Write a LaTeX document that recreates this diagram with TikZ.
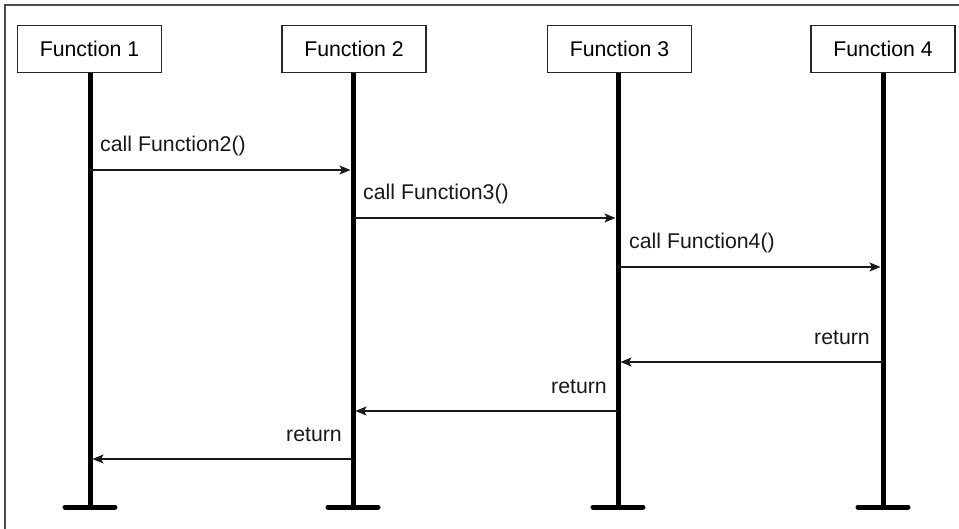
\documentclass[tikz,border=0pt]{standalone}
\usepackage{fontspec}
\setmainfont{Liberation Sans}
\usetikzlibrary{arrows.meta}
\begin{document}
\begin{tikzpicture}[x=1pt,y=-1pt,
  fbox/.style={draw=black!85, line width=1.8pt, fill=white, minimum width=144pt, minimum height=47pt, inner sep=0pt, font=\fontsize{21.3}{25}\selectfont},
  lifeline/.style={line width=5pt, black},
  capline/.style={line width=5pt, black, line cap=round},
  msg/.style={line width=1.4pt, black!90, -{Stealth[length=11pt,width=9pt,inset=2.5pt]}, shorten >=2.5pt},
  lbl/.style={font=\fontsize{21.3}{25}\selectfont, text=black!90, inner sep=0pt},
  frameline/.style={line width=1.4pt, black!70}
]
\useasboundingbox (0,0) rectangle (959,529);
\fill[white] (0,0) rectangle (959,529);
\draw[frameline] (5,529) -- (5,5) -- (959,5);

\node[fbox] (f1) at (89.5,49) {Function 1};
\node[fbox] (f2) at (354,49) {Function 2};
\node[fbox] (f3) at (619.5,49) {Function 3};
\node[fbox] (f4) at (883,49) {Function 4};

\foreach \i/\x in {1/90,2/353,3/618,4/883}{
  \coordinate (b\i) at (\x,507);
  \draw[lifeline] (f\i.south -| b\i) -- (b\i);
  \draw[capline] ([xshift=-25pt]b\i) -- ([xshift=25pt]b\i);
}

\coordinate (y1) at (0,170);
\coordinate (y2) at (0,218);
\coordinate (y3) at (0,267);
\coordinate (y4) at (0,362);
\coordinate (y5) at (0,411);
\coordinate (y6) at (0,459);

\draw[msg] (b1 |- y1) -- (b2 |- y1);
\draw[msg] (b2 |- y2) -- (b3 |- y2);
\draw[msg] (b3 |- y3) -- (b4 |- y3);
\draw[msg] (b4 |- y4) -- (b3 |- y4);
\draw[msg] (b3 |- y5) -- (b2 |- y5);
\draw[msg] (b2 |- y6) -- (b1 |- y6);

\node[lbl, anchor=base west] (l1) at (100,152) {call Function2()};
\node[lbl, anchor=base west] (l2) at (363,200) {call Function3()};
\node[lbl, anchor=base west] (l3) at (629,249) {call Function4()};
\node[lbl, anchor=base east] (l4) at (870,345) {return};
\node[lbl, anchor=base east] (l5) at (607,393) {return};
\node[lbl, anchor=base east] (l6) at (342,441) {return};
\end{tikzpicture}
\end{document}
